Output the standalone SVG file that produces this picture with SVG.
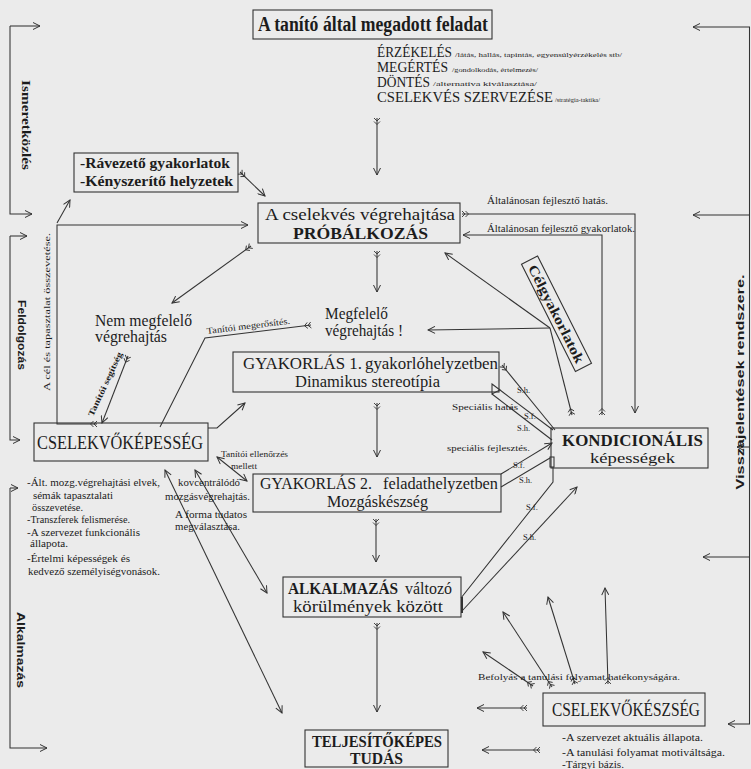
<svg xmlns="http://www.w3.org/2000/svg" width="751" height="769" viewBox="0 0 751 769">
<defs>
<style>
.t{font-family:"Liberation Serif","Times New Roman",serif;fill:#1c1c1c}
.s{font-family:"Liberation Sans",Arial,sans-serif;fill:#1c1c1c;font-weight:bold}
.b{font-weight:bold}
.box{fill:none;stroke:#333;stroke-width:1.1}
.ln{fill:none;stroke:#333;stroke-width:1.05}
.a{marker-end:url(#ah)}
.f{marker-start:url(#ft)}
.d{marker-start:url(#ah2);marker-end:url(#ah)}
</style>
<marker id="ah" viewBox="-8 -4 9 8" refX="0" refY="0" markerWidth="9" markerHeight="8" markerUnits="userSpaceOnUse" orient="auto"><path d="M-7,-3.5 L0,0 L-7,3.5" fill="none" stroke="#333" stroke-width="1"/></marker>
<marker id="ah2" viewBox="-8 -4 9 8" refX="0" refY="0" markerWidth="9" markerHeight="8" markerUnits="userSpaceOnUse" orient="auto-start-reverse"><path d="M-7,-3.5 L0,0 L-7,3.5" fill="none" stroke="#333" stroke-width="1"/></marker>
<marker id="ft" viewBox="-1 -4 9 8" refX="0" refY="0" markerWidth="9" markerHeight="8" markerUnits="userSpaceOnUse" orient="auto"><path d="M0,-3 L3,0 L0,3 M3.5,-3 L6.5,0 L3.5,3" fill="none" stroke="#333" stroke-width="0.9"/></marker>
</defs>
<rect width="751" height="769" fill="#ebebeb"/>

<g id="connectors">
<path class="ln f a" d="M377 118 L377 175"/>
<path class="ln f a" d="M377 251 L377 292"/>
<path class="ln f a" d="M377 403 L377 457"/>
<path class="ln f a" d="M376 519 L376 562"/>
<path class="ln f a" d="M377 623 L377 712"/>
<path class="ln f a" d="M97 424 L57 424 L57 225 L248 225"/>
<path class="ln a" d="M57 223 L70 200"/>
<path class="ln f a" d="M240 172 L265 196"/>
<path class="ln f a" d="M251 246 L172 303"/>
<path class="ln f a" d="M128 356 L102 423"/>
<path class="ln f" d="M311 325 L205 338 L160 427"/>
<path class="ln a" d="M208 428 L217 428 L245 403"/>
<path class="ln d" d="M217 457 L247 481"/>
<path class="ln d" d="M165 470 L282 713"/>
<path class="ln d" d="M195 470 L267 593"/>
<path class="ln f a" d="M462 214 L635 214 L635 413"/>
<path class="ln f a" d="M602 415 L602 235 L463 235"/>
<path class="ln f" d="M572 415 L550 328"/>
<path class="ln a" d="M550 328 L445 253"/>
<path class="ln a" d="M550 328 L428 330"/>
<path class="ln f" d="M502 365 L555 430"/>
<polygon class="ln" points="492,384 500,390 492,394"/>
<path class="ln" d="M500 390 L553 430"/>
<path class="ln" d="M492 394 L552 440"/>
<path class="ln a" d="M501 474 L552 443"/>
<path class="ln" d="M501 487 L550 458"/>
<rect class="ln" x="550" y="457" width="4" height="10"/>
<path class="ln" d="M461 598 L553 482 L553 467"/>
<path class="ln a" d="M462 611 L577 487"/>
<path class="ln" d="M462 597 L462 613" style="stroke-width:2"/>
<path class="ln f a" d="M533 686 L483 652"/>
<path class="ln f a" d="M552 687 L503 612"/>
<path class="ln f a" d="M575 684 L548 597"/>
<path class="ln f a" d="M608 684 L605 588"/>
<path class="ln f a" d="M527 708 L477 708"/>
<path class="ln f a" d="M540 750 L482 750"/>
<path class="ln" d="M749.5 27 L749.5 724"/>
<path class="ln a" d="M750 27 L693 27"/>
<path class="ln a" d="M750 215 L693 215"/>
<path class="ln a" d="M750 447 L737 447"/>
<path class="ln a" d="M750 557 L703 557"/>
<path class="ln a" d="M750 724 L728 724"/>
<path class="ln a" d="M10 26 L40 26"/>
<path class="ln a" d="M10 26 L10 214 L32 214"/>
<path class="ln a" d="M10 236 L27 236"/>
<path class="ln a" d="M10 236 L10 440 L20 440"/>
<path class="ln a" d="M10 488 L18 488"/>
<path class="ln a" d="M10 488 L10 748 L47 748"/>
</g>

<g id="n-feladat">
<rect class="box" x="253" y="10" width="239" height="29"/>
<text class="t b" x="258" y="31" font-size="20" textLength="230" lengthAdjust="spacingAndGlyphs">A tanító által megadott feladat</text>
</g>
<g id="n-folyamat">
<text class="t" x="377" y="57" font-size="14.5" textLength="75" lengthAdjust="spacingAndGlyphs">ÉRZÉKELÉS</text>
<text class="t" x="455" y="57" font-size="7" textLength="167" lengthAdjust="spacingAndGlyphs">/látás, hallás, tapintás, egyensúlyérzékelés stb/</text>
<text class="t" x="377" y="72" font-size="14.5" textLength="71" lengthAdjust="spacingAndGlyphs">MEGÉRTÉS</text>
<text class="t" x="452" y="72" font-size="7" textLength="86" lengthAdjust="spacingAndGlyphs">/gondolkodás, értelmezés/</text>
<text class="t" x="377" y="87" font-size="14.5" textLength="53" lengthAdjust="spacingAndGlyphs">DÖNTÉS</text>
<text class="t" x="433" y="86" font-size="7" textLength="104" lengthAdjust="spacingAndGlyphs">/alternatíva kiválasztása/</text>
<text class="t" x="377" y="102" font-size="14.5" textLength="176" lengthAdjust="spacingAndGlyphs">CSELEKVÉS SZERVEZÉSE</text>
<text class="t" x="555" y="102" font-size="7" textLength="45" lengthAdjust="spacingAndGlyphs">/stratégia-taktika/</text>
</g>
<g id="n-probalkozas">
<rect class="box" x="258" y="203" width="202" height="40"/>
<text class="t" x="265" y="220" font-size="16.5" textLength="190" lengthAdjust="spacingAndGlyphs">A cselekvés végrehajtása</text>
<text class="t b" x="293" y="239" font-size="16" textLength="135" lengthAdjust="spacingAndGlyphs">PRÓBÁLKOZÁS</text>
</g>
<g id="n-ravezeto">
<rect class="box" x="74" y="153" width="164" height="39"/>
<text class="t b" x="80" y="168" font-size="15.5" textLength="150" lengthAdjust="spacingAndGlyphs">-Rávezető gyakorlatok</text>
<text class="t b" x="80" y="186" font-size="15.5" textLength="153" lengthAdjust="spacingAndGlyphs">-Kényszerítő helyzetek</text>
</g>
<g id="n-nemmegfelelo">
<text class="t" x="95" y="326" font-size="16" textLength="97" lengthAdjust="spacingAndGlyphs">Nem megfelelő</text>
<text class="t" x="95" y="342" font-size="16" textLength="72" lengthAdjust="spacingAndGlyphs">végrehajtás</text>
</g>
<g id="n-megfelelo">
<text class="t" x="325" y="319" font-size="16" textLength="63" lengthAdjust="spacingAndGlyphs">Megfelelő</text>
<text class="t" x="325" y="336" font-size="16" textLength="78" lengthAdjust="spacingAndGlyphs">végrehajtás !</text>
</g>
<g id="n-gyak1">
<rect class="box" x="233" y="352" width="266" height="40"/>
<text class="t" x="243" y="369" font-size="17.5" textLength="119" lengthAdjust="spacingAndGlyphs">GYAKORLÁS 1.</text>
<text class="t" x="365" y="369" font-size="17.5" textLength="133" lengthAdjust="spacingAndGlyphs">gyakorlóhelyzetben</text>
<text class="t" x="295" y="387" font-size="16" textLength="145" lengthAdjust="spacingAndGlyphs">Dinamikus stereotípia</text>
</g>
<g id="n-gyak2">
<rect class="box" x="253" y="474" width="248" height="38"/>
<text class="t" x="260" y="489" font-size="17.5" textLength="112" lengthAdjust="spacingAndGlyphs">GYAKORLÁS 2.</text>
<text class="t" x="383" y="489" font-size="17.5" textLength="115" lengthAdjust="spacingAndGlyphs">feladathelyzetben</text>
<text class="t" x="327" y="507" font-size="16" textLength="101" lengthAdjust="spacingAndGlyphs">Mozgáskészség</text>
</g>
<g id="n-cselekvokepesseg">
<rect class="box" x="34" y="423" width="174" height="38"/>
<text class="t" x="37" y="449" font-size="19" textLength="166" lengthAdjust="spacingAndGlyphs">CSELEKVŐKÉPESSÉG</text>
<text class="t" x="27" y="486" font-size="10" textLength="133" lengthAdjust="spacingAndGlyphs">-Ált. mozg.végrehajtási elvek,</text>
<text class="t" x="33" y="499" font-size="10" textLength="80" lengthAdjust="spacingAndGlyphs">sémák tapasztalati</text>
<text class="t" x="32" y="511" font-size="10" textLength="51" lengthAdjust="spacingAndGlyphs">összevetése.</text>
<text class="t" x="27" y="523" font-size="10" textLength="103" lengthAdjust="spacingAndGlyphs">-Transzferek felismerése.</text>
<text class="t" x="27" y="536" font-size="10" textLength="113" lengthAdjust="spacingAndGlyphs">-A szervezet funkcionális</text>
<text class="t" x="30" y="547" font-size="10" textLength="38" lengthAdjust="spacingAndGlyphs">állapota.</text>
<text class="t" x="27" y="562" font-size="10" textLength="103" lengthAdjust="spacingAndGlyphs">-Értelmi képességek és</text>
<text class="t" x="28" y="575" font-size="10" textLength="132" lengthAdjust="spacingAndGlyphs">kedvező személyiségvonások.</text>
</g>
<g id="n-kondicionalis">
<rect class="box" x="551" y="428" width="157" height="40"/>
<text class="t b" x="562" y="446" font-size="17" textLength="141" lengthAdjust="spacingAndGlyphs">KONDICIONÁLIS</text>
<text class="t" x="590" y="463" font-size="15.5" textLength="85" lengthAdjust="spacingAndGlyphs">képességek</text>
</g>
<g id="n-celgyakorlatok" transform="translate(556.5 313.75) rotate(63.3)">
<rect class="box" x="-60" y="-9" width="120" height="18"/>
<text class="t b" x="0" y="5" font-size="14" text-anchor="middle" textLength="108" lengthAdjust="spacingAndGlyphs">Célgyakorlatok</text>
</g>
<g id="n-alkalmazas">
<rect class="box" x="283" y="577" width="178" height="40"/>
<text class="t b" x="288" y="594" font-size="16" textLength="110" lengthAdjust="spacingAndGlyphs">ALKALMAZÁS</text>
<text class="t" x="405" y="594" font-size="16" textLength="47" lengthAdjust="spacingAndGlyphs">változó</text>
<text class="t" x="293" y="612" font-size="16" textLength="150" lengthAdjust="spacingAndGlyphs">körülmények között</text>
</g>
<g id="n-teljesitokepes">
<rect class="box" x="305" y="730" width="143" height="37"/>
<text class="t b" x="312" y="747" font-size="16" textLength="130" lengthAdjust="spacingAndGlyphs">TELJESÍTŐKÉPES</text>
<text class="t b" x="350" y="764" font-size="16" textLength="53" lengthAdjust="spacingAndGlyphs">TUDÁS</text>
</g>
<g id="n-cselekvokeszseg">
<rect class="box" x="543" y="693" width="162" height="33"/>
<text class="t" x="552" y="716" font-size="18" textLength="148" lengthAdjust="spacingAndGlyphs">CSELEKVŐKÉSZSÉG</text>
<text class="t" x="562" y="741" font-size="10" textLength="141" lengthAdjust="spacingAndGlyphs">-A szervezet aktuális állapota.</text>
<text class="t" x="562" y="756" font-size="10" textLength="163" lengthAdjust="spacingAndGlyphs">-A tanulási folyamat motiváltsága.</text>
<text class="t" x="562" y="768" font-size="9.5" textLength="62" lengthAdjust="spacingAndGlyphs">-Tárgyi bázis.</text>
</g>

<g id="labels">
<text class="t" x="487" y="204" font-size="9.5" textLength="121" lengthAdjust="spacingAndGlyphs">Általánosan fejlesztő hatás.</text>
<text class="t" x="487" y="232" font-size="9.5" textLength="148" lengthAdjust="spacingAndGlyphs">Általánosan fejlesztő gyakorlatok.</text>
<text class="t" transform="translate(207 334) rotate(-7)" x="0" y="0" font-size="9" textLength="84" lengthAdjust="spacingAndGlyphs">Tanítói megerősítés.</text>
<text class="t b" transform="translate(93 417) rotate(-65)" x="0" y="0" font-size="8.5" textLength="70" lengthAdjust="spacingAndGlyphs">Tanítói segítség</text>
<text class="t" x="221" y="457" font-size="9" textLength="67" lengthAdjust="spacingAndGlyphs">Tanítói ellenőrzés</text>
<text class="t" x="231" y="469" font-size="9" textLength="26" lengthAdjust="spacingAndGlyphs">mellett</text>
<text class="t" x="178" y="486" font-size="9.5" textLength="62" lengthAdjust="spacingAndGlyphs">kovcentrálódó</text>
<text class="t" x="165" y="500" font-size="9.5" textLength="85" lengthAdjust="spacingAndGlyphs">mozgásvégrehajtás.</text>
<text class="t" x="175" y="518" font-size="9.5" textLength="72" lengthAdjust="spacingAndGlyphs">A forma tudatos</text>
<text class="t" x="175" y="530" font-size="9.5" textLength="65" lengthAdjust="spacingAndGlyphs">megválasztása.</text>
<text class="t" x="452" y="410" font-size="8.5" textLength="66" lengthAdjust="spacingAndGlyphs">Speciális hatás</text>
<text class="t" x="447" y="451" font-size="8.5" textLength="83" lengthAdjust="spacingAndGlyphs">speciális fejlesztés.</text>
<text class="t" x="517" y="393" font-size="8.5">S.h.</text>
<text class="t" x="524" y="419" font-size="8.5">S.f.</text>
<text class="t" x="517" y="431" font-size="8.5">S.h.</text>
<text class="t" x="513" y="468" font-size="8.5">S.f.</text>
<text class="t" x="519" y="483" font-size="8.5">S.h.</text>
<text class="t" x="526" y="510" font-size="8.5">S.f.</text>
<text class="t" x="523" y="540" font-size="8.5">S.h.</text>
<text class="t" x="478" y="680" font-size="9" textLength="202" lengthAdjust="spacingAndGlyphs">Befolyás a tanulási folyamat hatékonyságára.</text>
<text class="t b" transform="translate(26 125) rotate(90)" x="0" y="4" font-size="12" text-anchor="middle" textLength="90" lengthAdjust="spacingAndGlyphs">Ismeretközlés</text>
<text class="s" transform="translate(22 335) rotate(90)" x="0" y="4" font-size="11" text-anchor="middle" textLength="70" lengthAdjust="spacingAndGlyphs">Feldolgozás</text>
<text class="s" transform="translate(21 650) rotate(90)" x="0" y="4" font-size="11" text-anchor="middle" textLength="76" lengthAdjust="spacingAndGlyphs">Alkalmazás</text>
<text class="t" transform="translate(47 312) rotate(-90)" x="0" y="3" font-size="9" text-anchor="middle" textLength="158" lengthAdjust="spacingAndGlyphs">A cél és tapasztalat összevetése.</text>
<text class="s" transform="translate(740 382) rotate(-90)" x="0" y="4" font-size="11" text-anchor="middle" textLength="215" lengthAdjust="spacingAndGlyphs">Visszajelentések rendszere.</text>
</g>
</svg>
